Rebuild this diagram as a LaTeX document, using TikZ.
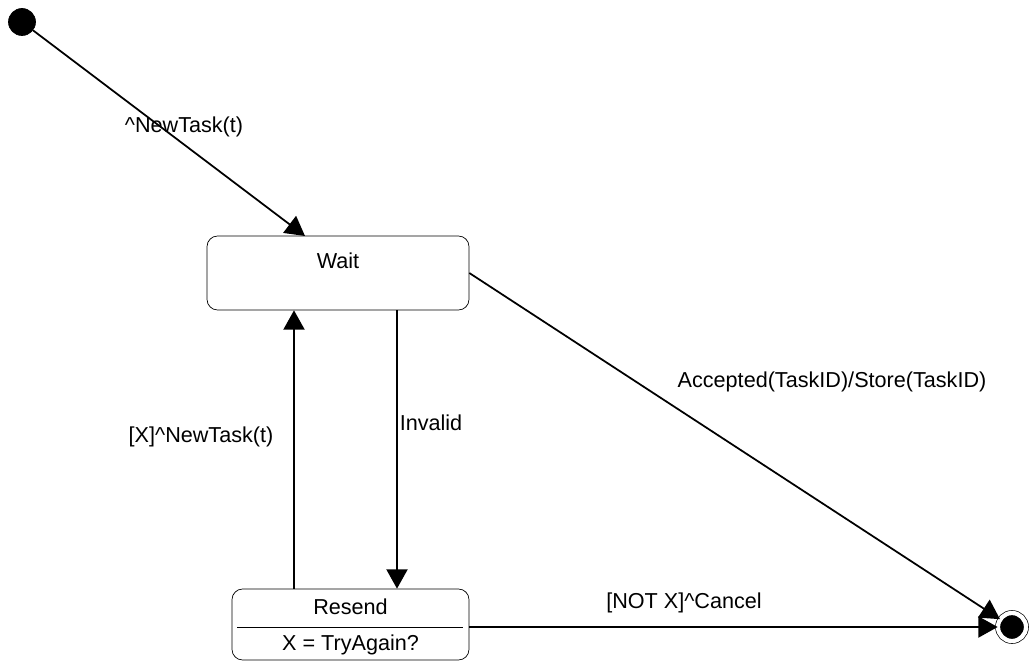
\documentclass[tikz,border=0pt]{standalone}
\usepackage{fontspec}
\setmainfont{Liberation Sans}
\usetikzlibrary{arrows.meta}

\begin{document}
\begin{tikzpicture}[x=0.02cm,y=-0.02cm,
  every node/.style={font=\fontsize{12.3}{15}\selectfont},
  state/.style={draw,rounded corners=6pt,inner sep=0pt},
  start/.style={circle,draw,fill=black,inner sep=0pt,minimum size=0.54cm},
  stop/.style={circle,draw,fill=black,inner sep=0pt,minimum size=0.56cm,double=white,double distance=2.4pt},
  trans/.style={line width=1pt,-{Triangle[length=11pt,width=12pt]}}]
\useasboundingbox (0,0) rectangle (1034,662);

\node[start] at (22,22) (init) {};
\node[state,minimum width=5.24cm,minimum height=1.48cm] at (338,273) (wait) {};
\node[below=6pt] at (wait.north) (waitname) {Wait};
\node[state,minimum width=4.74cm,minimum height=1.42cm] at (350.5,624.5) (resend) {};
\node at (350.5,607) (resendname) {Resend};
\node at (350.5,645) (resendact) {X = TryAgain?};
\draw (237,627) -- (463,627);
\node[stop] at (1012,627) (final) {};

\coordinate (waitin) at (305,236);
\coordinate (up) at (294,0);
\coordinate (down) at (397,0);

\draw[trans] (init) -- (waitin);
\draw[trans] (resend.north -| up) -- (wait.south -| up);
\draw[trans] (wait.south -| down) -- (resend.north -| down);
\draw[trans] (wait.east) -- (final);
\draw[trans] (resend.east |- final) -- (final);

\node at (184,127) {\textasciicircum NewTask(t)};
\node at (201,437) {[X]\textasciicircum NewTask(t)};
\node at (431,423) {Invalid};
\node at (832,382) {Accepted(TaskID)/Store(TaskID)};
\node at (684,603) {[NOT X]\textasciicircum Cancel};
\end{tikzpicture}
\end{document}
